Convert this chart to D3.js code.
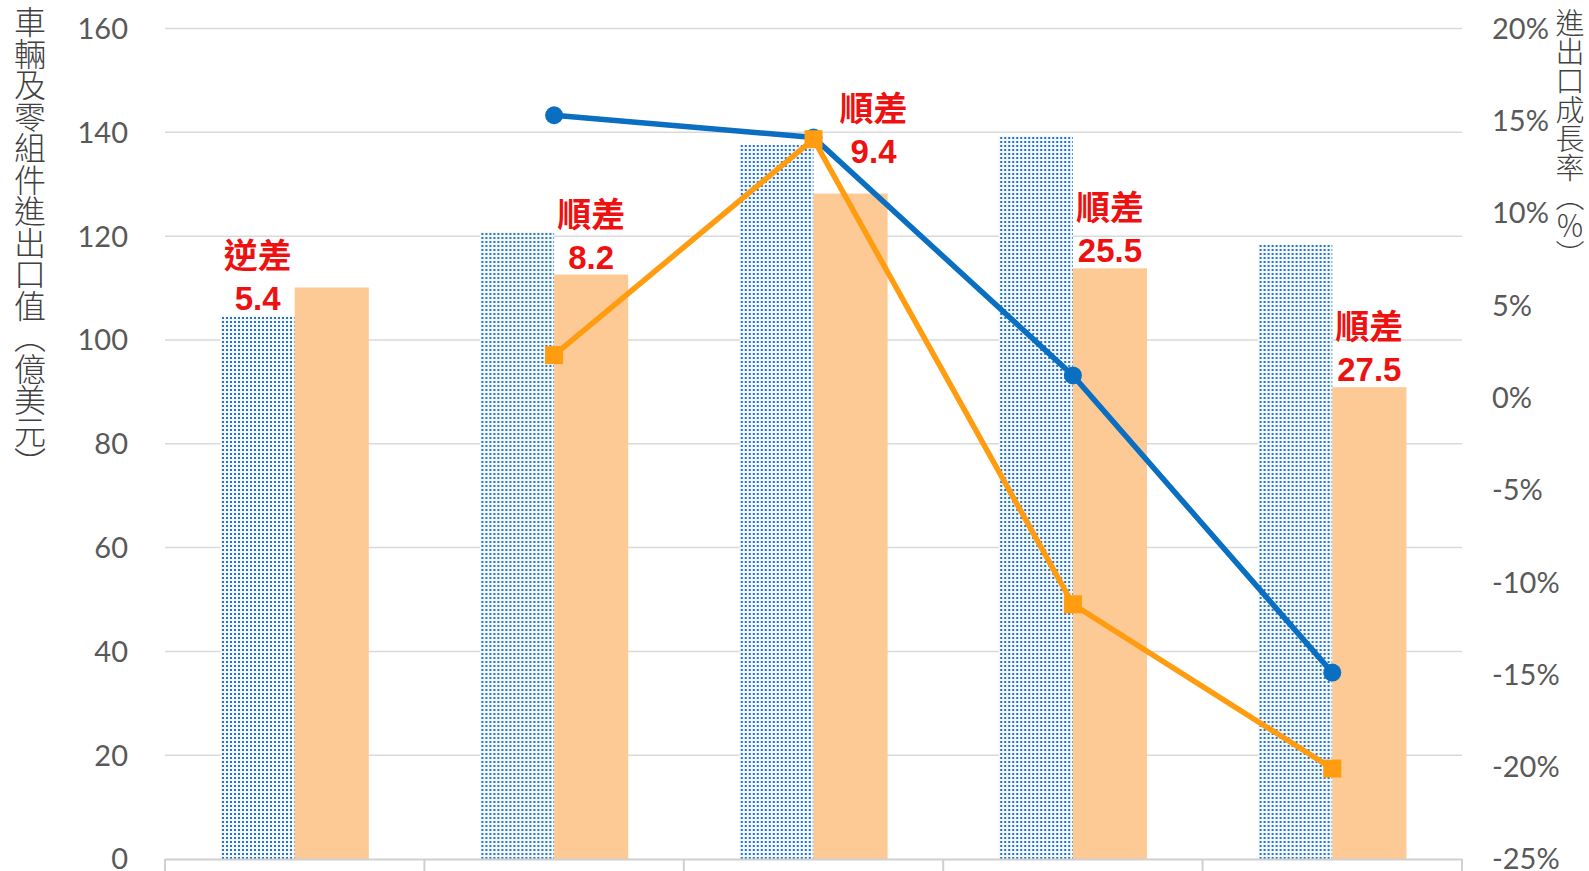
<!DOCTYPE html>
<html>
<head>
<meta charset="utf-8">
<script src="https://cdn.jsdelivr.net/npm/d3@7"></script>
<style>
  body { margin: 0; background: #fff; }
  svg { display: block; }
  .tick-lbl { font-family: Lato, "Open Sans", sans-serif; font-size: 29px; fill: #595959; }
  .ytitle { font-family: "Noto Sans CJK TC", sans-serif; font-weight: 300; fill: #404040; writing-mode: vertical-rl; }
  .note { font-family: "Liberation Sans", "Noto Sans CJK TC", sans-serif; font-weight: bold; fill: #ee1111; text-anchor: middle; }
</style>
</head>
<body>
<svg width="1589" height="871"></svg>
<script>
// data
const categories = ["P1", "P2", "P3", "P4", "P5"];
const exportValue = [104.7, 120.8, 137.6, 139.3, 118.4];
const importValue = [110.1, 112.6, 128.2, 113.8, 90.9];
const exportGrowth = [null, 15.3, 14.1, 1.2, -14.9];
const importGrowth = [null, 2.3, 14.0, -11.2, -20.1];
const balanceWord = ["逆差", "順差", "順差", "順差", "順差"];
const balanceValue = ["5.4", "8.2", "9.4", "25.5", "27.5"];
const leftTicks = [0, 20, 40, 60, 80, 100, 120, 140, 160];
const rightTicks = [-25, -20, -15, -10, -5, 0, 5, 10, 15, 20];

const svg = d3.select("svg");
const plotLeft = 165, plotRight = 1462, plotTop = 28.5, plotBottom = 859;

const x = d3.scaleBand().domain(categories).range([plotLeft, plotRight]).padding(0);
const xs = d3.scaleBand().domain(["exp", "imp"]).range([0, x.bandwidth()])
  .paddingInner(0).paddingOuter(0.75);
const yL = d3.scaleLinear().domain([0, 160]).range([plotBottom, plotTop]);
const yR = d3.scaleLinear().domain([-25, 20]).range([plotBottom, plotTop]);

// dotted fill for export bars
const defs = svg.append("defs");
const pat = defs.append("pattern")
  .attr("id", "dots")
  .attr("patternUnits", "userSpaceOnUse")
  .attr("width", 4).attr("height", 4);
pat.append("rect").attr("width", 4).attr("height", 4).attr("fill", "#f2f7fc");
pat.append("rect").attr("x", 1).attr("y", 1).attr("width", 2).attr("height", 2).attr("fill", "#2a74bb");

// gridlines
svg.append("g")
  .selectAll("line")
  .data(leftTicks.filter(d => d > 0))
  .join("line")
  .attr("x1", plotLeft).attr("x2", plotRight)
  .attr("y1", d => yL(d)).attr("y2", d => yL(d))
  .attr("stroke", "#d9d9d9")
  .attr("stroke-width", 1.5);

// left axis labels
const yAxisL = d3.axisLeft(yL).tickValues(leftTicks).tickSize(0).tickPadding(0);
const gl = svg.append("g").attr("transform", `translate(128,0)`).call(yAxisL);
gl.select(".domain").remove();
gl.selectAll("text").attr("class", "tick-lbl").attr("dy", "0.34em").attr("x", 0);
gl.attr("font-size", null).attr("font-family", null);

// right axis labels
const yAxisR = d3.axisRight(yR).tickValues(rightTicks).tickSize(0).tickPadding(0)
  .tickFormat(d => d + "%");
const gr = svg.append("g").attr("transform", `translate(1492,0)`).call(yAxisR);
gr.select(".domain").remove();
gr.selectAll("text").attr("class", "tick-lbl").attr("dy", "0.34em").attr("x", 0);
gr.attr("font-size", null).attr("font-family", null);

// bars
const groups = svg.append("g")
  .selectAll("g")
  .data(categories)
  .join("g")
  .attr("transform", d => `translate(${x(d)},0)`);

groups.append("rect")
  .attr("x", xs("exp"))
  .attr("width", xs.bandwidth())
  .attr("y", (d, i) => yL(exportValue[i]))
  .attr("height", (d, i) => plotBottom - yL(exportValue[i]))
  .attr("fill", "url(#dots)");

groups.append("rect")
  .attr("x", xs("imp"))
  .attr("width", xs.bandwidth())
  .attr("y", (d, i) => yL(importValue[i]))
  .attr("height", (d, i) => plotBottom - yL(importValue[i]))
  .attr("fill", "#fdca96");

// x axis
const xAxis = d3.axisBottom(x).tickSize(0).tickFormat("");
const gx = svg.append("g").attr("transform", `translate(0,${plotBottom})`).call(xAxis);
gx.select(".domain").attr("stroke", "#d0d0d0").attr("stroke-width", 2);
svg.append("g")
  .selectAll("line")
  .data(categories.concat(["end"]))
  .join("line")
  .attr("x1", (d, i) => i < categories.length ? x(d) : plotRight)
  .attr("x2", (d, i) => i < categories.length ? x(d) : plotRight)
  .attr("y1", plotBottom).attr("y2", plotBottom + 20)
  .attr("stroke", "#d0d0d0").attr("stroke-width", 2);

// growth lines
const cx = d => x(d) + x.bandwidth() / 2;
const line = d3.line()
  .defined(d => d.v != null)
  .x(d => cx(d.c))
  .y(d => yR(d.v));

const expPts = categories.map((c, i) => ({ c, v: exportGrowth[i] }));
const impPts = categories.map((c, i) => ({ c, v: importGrowth[i] }));

svg.append("path")
  .datum(expPts)
  .attr("d", line)
  .attr("fill", "none")
  .attr("stroke", "#0b6fc1")
  .attr("stroke-width", 5.5);
svg.append("g")
  .selectAll("circle")
  .data(expPts.filter(d => d.v != null))
  .join("circle")
  .attr("cx", d => cx(d.c))
  .attr("cy", d => yR(d.v))
  .attr("r", 9)
  .attr("fill", "#0b6fc1");

svg.append("path")
  .datum(impPts)
  .attr("d", line)
  .attr("fill", "none")
  .attr("stroke", "#ff9c0f")
  .attr("stroke-width", 5.5);
svg.append("g")
  .selectAll("rect")
  .data(impPts.filter(d => d.v != null))
  .join("rect")
  .attr("x", d => cx(d.c) - 9)
  .attr("y", d => yR(d.v) - 9)
  .attr("width", 18)
  .attr("height", 18)
  .attr("fill", "#ff9c0f");

// balance notes, sitting on the lower bar of each pair
const notes = svg.append("g")
  .selectAll("g")
  .data(categories)
  .join("g")
  .attr("class", "note")
  .attr("transform", (d, i) => {
    const lowExp = exportValue[i] < importValue[i];
    let nx = x(d) + xs(lowExp ? "exp" : "imp") + xs.bandwidth() / 2;
    let ny = yL(Math.min(exportValue[i], importValue[i])) - 6;
    if (i === 2) { nx += 23; ny -= 25; } // moved clear of the markers
    return `translate(${nx},${ny})`;
  });
notes.append("text")
  .attr("font-size", 33)
  .text((d, i) => balanceValue[i]);
notes.append("text")
  .attr("y", -42)
  .attr("font-size", 34)
  .text((d, i) => balanceWord[i]);

// axis titles
svg.append("text")
  .attr("class", "ytitle")
  .attr("x", 30).attr("y", 6)
  .attr("font-size", 32)
  .attr("letter-spacing", -0.5)
  .text("車輛及零組件進出口值（億美元）");

svg.append("text")
  .attr("class", "ytitle")
  .attr("x", 1570).attr("y", 8)
  .attr("font-size", 29)
  .text("進出口成長率（％）");
</script>
</body>
</html>
